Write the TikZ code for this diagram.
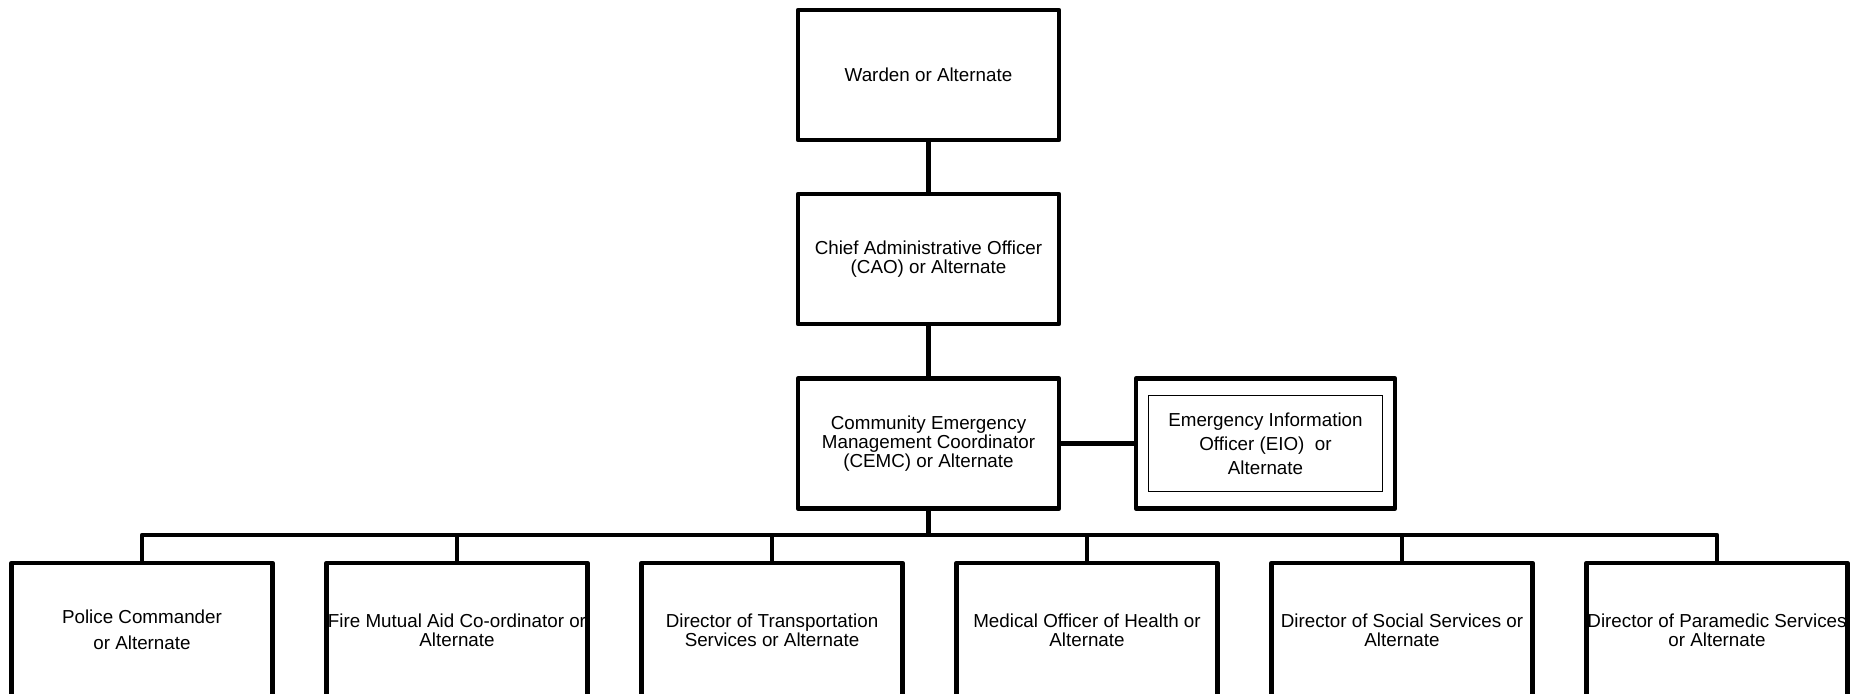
\documentclass[tikz,border=0pt]{standalone}
\usepackage{fontspec}
\setmainfont{Liberation Sans}

\begin{document}
\begin{tikzpicture}[x=0.5pt,y=-0.5pt,
	box/.style={draw,line width=2.2pt,line join=round,inner sep=0pt,align=center,
		minimum width=130.5pt,minimum height=65pt,font=\fontsize{9.4}{9.6}\selectfont},
	link/.style={line width=2.2pt}]
	\useasboundingbox (0,0) rectangle (1865,694);
	\clip (0,0) rectangle (1865,694);

	\node[box] (warden) at (928.5,75) {Warden or Alternate};
	\node[box] (cao) at (928.5,259) {Chief Administrative Officer\\(CAO) or Alternate};
	\node[box] (cemc) at (928.5,443.5) {Community Emergency\\Management Coordinator\\(CEMC) or Alternate};
	\node[box,minimum width=129.5pt] (eio) at (1265.5,443.5) {};
	\node[draw,line width=.75pt,inner sep=0pt,align=center,minimum width=117pt,minimum height=48pt,
		font=\fontsize{9.4}{12}\selectfont] (eioin) at (eio.center) {Emergency Information\\Officer (EIO)\ \ or\\Alternate};

	\draw[link] (warden) -- (cao);
	\draw[link] (cao) -- (cemc);
	\draw[link] (cemc) -- (eio);

	\coordinate (bus) at (928.5,535);
	\foreach \i/\txt in {1/{Police Commander\\[3.5pt]or Alternate},
		2/{Fire Mutual Aid Co-ordinator or\\Alternate},
		3/{Director of Transportation\\Services or Alternate},
		4/{Medical Officer of Health or\\Alternate},
		5/{Director of Social Services or\\Alternate},
		6/{Director of Paramedic Services\\or Alternate}}
		\node[box,minimum height=67pt] (svc\i) at ({142+315*(\i-1)},630) {\txt};

	\draw[link,line join=round] (cemc) -- (bus);
	\draw[link,line join=round] (svc1.north) |- (bus) -| (svc6.north);
	\foreach \i in {2,...,5}
		\draw[link] (svc\i.north) -- (svc\i.north |- bus);
\end{tikzpicture}
\end{document}
